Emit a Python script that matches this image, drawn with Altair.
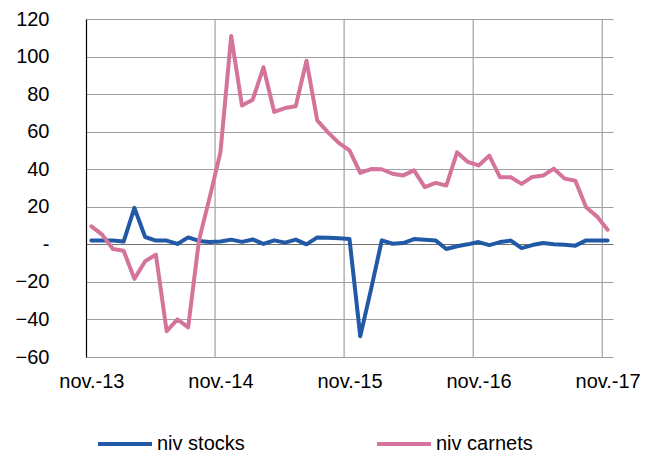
import altair as alt
import pandas as pd

series_names = ["niv stocks", "niv carnets"]
series_colors = ["#2159A6", "#D4749B"]

tick_labels = ["nov.-13", "nov.-14", "nov.-15", "nov.-16", "nov.-17"]
tick_positions = [0, 12, 24, 36, 48]
year_bounds = [11.5, 23.5, 35.5, 47.5]

niv_stocks = [2.1, 2, 2, 1.5, 19.4, 3.9, 2, 2, 0.2, 3.7, 1.8, 1.3, 1.5, 2.5, 1.3, 2.6,
              0.2, 2.1, 0.9, 2.5, 0, 3.7, 3.5, 3.2, 2.8, -49, -24, 2.1, 0.3, 0.7, 2.8,
              2.4, 2.1, -2.5, -1, 0, 1.2, -0.4, 1.2, 2, -2, -0.4, 0.7, 0, -0.2, -0.7,
              2.1, 2.1, 2]
niv_carnets = [9.6, 5.2, -2.5, -3.4, -18.4, -9, -5.5, -46.3, -40, -44.2, 2, 25, 49, 111,
               73.9, 77, 94.3, 70.5, 72.6, 73.5, 97.8, 66, 59.6, 54, 50, 38, 40.1, 40,
               37.6, 36.7, 39.4, 30.5, 32.7, 31.3, 49, 43.9, 42, 47.2, 35.7, 35.7, 32.2,
               35.9, 36.6, 40.3, 35, 33.9, 19.7, 14.9, 7.8]

rows = []
for name, vals in zip(series_names, [niv_stocks, niv_carnets]):
    for i, v in enumerate(vals):
        rows.append({"idx": i, "value": v, "serie": name})
df = pd.DataFrame(rows)
df_grid = pd.DataFrame({"b": year_bounds})

label_map = "{" + ",".join(f"'{p}':'{l}'" for p, l in zip(tick_positions, tick_labels)) + "}"

FONT = "Liberation Sans"

xscale = alt.Scale(domain=[-0.5, 48.5], nice=False, zero=False)
yscale = alt.Scale(domain=[-60, 120], nice=False)

x_axis = alt.Axis(values=tick_positions, labelExpr=label_map + "[datum.value]",
                  grid=False, ticks=False, domain=False, title=None,
                  labelFont=FONT, labelFontSize=20, labelColor="#000",
                  labelPadding=14, labelFlush=False, labelOverlap=False)

grid = alt.Chart(df_grid).mark_rule(color="#A0A0A0", strokeWidth=1.2).encode(
    x=alt.X("b:Q", scale=xscale, axis=x_axis)
)

lines = alt.Chart(df).mark_line(strokeWidth=4, strokeJoin="round", strokeCap="round").encode(
    x=alt.X("idx:Q", scale=xscale, axis=x_axis),
    y=alt.Y("value:Q", scale=yscale,
            axis=alt.Axis(values=list(range(-60, 121, 20)),
                          labelExpr="datum.value == 0 ? '-\u00a0\u00a0\u00a0\u00a0' : datum.label",
                          grid=True,
                          gridColor={"condition": {"test": "datum.value === 0", "value": "#707070"},
                                     "value": "#A0A0A0"},
                          gridWidth=1.2,
                          ticks=False, domain=True, domainColor="#000", domainWidth=1.2,
                          title=None, labelFont=FONT, labelFontSize=20, labelColor="#000",
                          labelPadding=37)),
    color=alt.Color("serie:N", scale=alt.Scale(domain=series_names, range=series_colors),
                    legend=alt.Legend(orient="none", legendX=10, legendY=396,
                                      direction="horizontal", title=None,
                                      symbolType="stroke", symbolSize=2916,
                                      symbolStrokeWidth=4, labelFont=FONT,
                                      labelFontSize=20, labelColor="#000",
                                      labelOffset=3, columnPadding=124,
                                      labelLimit=300)),
    order=alt.Order("idx:Q"),
)

chart = alt.layer(grid, lines).properties(
    width=527, height=338,
    autosize=alt.AutoSizeParams(type="none"),
    padding={"left": 78, "top": 11, "right": 38, "bottom": 100},
).configure_view(stroke=None)

chart.save("out.html", embed_options={"renderer": "svg", "actions": False})
